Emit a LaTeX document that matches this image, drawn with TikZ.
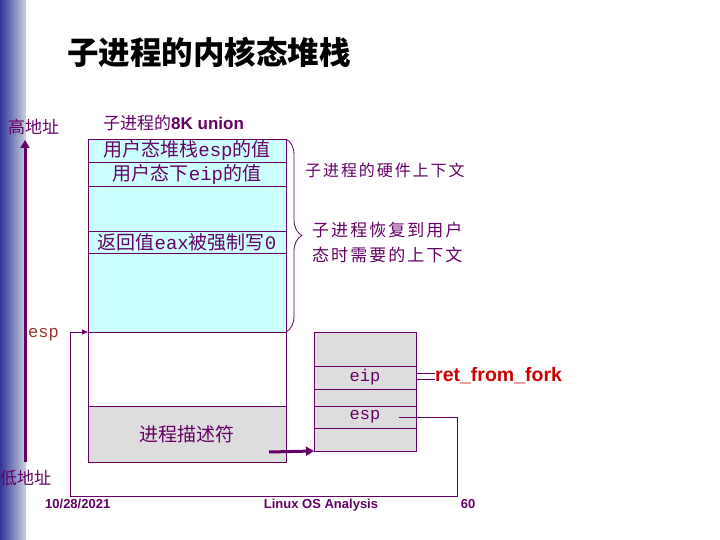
\documentclass[tikz,border=0pt]{standalone}
\usepackage{fontspec}
\setmainfont{Noto Sans CJK SC}
\newfontfamily\mono{Liberation Mono}
\newfontfamily\arial{Liberation Sans}
\newfontfamily\widecjk[LetterSpace=12]{Noto Sans CJK SC}
\usetikzlibrary{arrows.meta,decorations.pathreplacing}
\definecolor{pline}{HTML}{660066}
\definecolor{stackcyan}{HTML}{CCFFFF}
\definecolor{descgray}{HTML}{DDDDDD}
\definecolor{retred}{HTML}{CC0000}
\definecolor{espred}{HTML}{993333}
\definecolor{barblue}{HTML}{333399}
\definecolor{barlight}{HTML}{C8D4E0}
\newcommand\setpt[1]{\fontsize{#1}{#1}\selectfont}

\begin{document}
\begin{tikzpicture}[x=1pt,y=-1pt,
  cell/.style={draw=pline,line width=0.8pt,minimum width=198pt,inner sep=0pt,outer sep=0pt,text=pline,font=\setpt{19}},
  tcell/.style={draw=pline,line width=0.8pt,fill=descgray,minimum width=102pt,inner sep=0pt,outer sep=0pt,text=pline,font=\mono\setpt{17}},
  lbl/.style={text=pline,inner sep=0pt},
  foot/.style={text=pline,inner sep=0pt,anchor=base,font=\arial\bfseries\setpt{13}},
  tip/.style={-{Triangle[length=8pt,width=9pt]}}]
  \useasboundingbox (0,0) rectangle (720,540);
  \shade[left color=barblue,right color=barlight] (0,0) rectangle (26,540);

  % title
  \node[anchor=west,inner sep=0pt,font=\bfseries\setpt{31.5}] (title) at (67,52) {子进程的内核态堆栈};

  % kernel stack of the child (8K union)
  \node[lbl,anchor=west,font=\setpt{17}] (union) at (103,123) {子进程的{\arial\bfseries 8K union}};
  \node[cell,fill=stackcyan,minimum height=23pt] (r1) at (187,150.5) {用户态堆栈{\mono esp}的值};
  \node[cell,fill=stackcyan,minimum height=24pt] (r2) at (187,174) {用户态下{\mono eip}的值};
  \node[cell,fill=stackcyan,minimum height=45pt] (r3) at (187,208.5) {};
  \node[cell,fill=stackcyan,minimum height=22pt] (r4) at (187,242) {返回值{\mono eax}被强制写{\mono 0}};
  \node[cell,fill=stackcyan,minimum height=79pt] (r5) at (187,292.5) {};
  \node[cell,minimum height=74pt] (free) at (187,369) {};
  \node[cell,fill=descgray,minimum height=56pt] (desc) at (187,434) {进程描述符};

  % thread part of the descriptor
  \node[tcell,minimum height=34pt] (t1) at (365,349) {};
  \node[tcell,minimum height=23pt] (t2) at (365,377.5) {eip};
  \node[tcell,minimum height=17pt] (t3) at (365,397.5) {};
  \node[tcell,minimum height=22pt] (t4) at (365,417) {esp};
  \node[tcell,minimum height=23pt] (t5) at (365,439.5) {};

  % brace and its notes
  \draw[pline,line width=0.8pt,decorate,decoration={brace,amplitude=16pt}] (r1.north east) -- (r5.south east);
  \node[lbl,anchor=west,font=\widecjk\setpt{16}] (hw) at (305,170) {子进程的硬件上下文};
  \node[lbl,anchor=west,align=left,font=\widecjk\fontsize{17}{25}\selectfont] (ctx) at (312,242) {子进程恢复到用户\\态时需要的上下文};

  % addresses
  \node[lbl,anchor=west,font=\setpt{17}] (high) at (8,127) {高地址};
  \node[lbl,anchor=west,font=\setpt{17}] (low) at (0,478) {低地址};
  \coordinate (lo) at (25,462);
  \coordinate (hi) at (25,140);
  \draw[pline,line width=3pt,tip] (lo) -- (hi);
  \node[anchor=west,inner sep=0pt,text=espred,font=\mono\setpt{17}] (esplbl) at (28,335) {esp};

  % pointers
  \coordinate (espsrc) at (399,417);
  \draw[pline,line width=0.9pt,-{Triangle[length=6pt,width=5pt]}] (espsrc) -- (457,417) -- (457,496) -- (70,496) -- (70,332) -- (free.north west);
  \coordinate (descsrc) at (269,452);
  \draw[pline,line width=3pt,tip] (descsrc) -- (t5.south west);
  \node[anchor=west,inner sep=0pt,text=retred,font=\arial\bfseries\setpt{19.5}] (rff) at (435,376) {ret\_from\_fork};
  \draw[pline,line width=0.9pt] ([yshift=-3pt]t2.east |- rff.west) -- ([yshift=-3pt]rff.west);
  \draw[pline,line width=0.9pt] ([yshift=3pt]t2.east |- rff.west) -- ([yshift=3pt]rff.west);

  % footer
  \node[foot,anchor=base west] (date) at (45,508) {10/28/2021};
  \node[foot] (course) at (321,508) {Linux OS Analysis};
  \node[foot] (page) at (468,508) {60};
\end{tikzpicture}
\end{document}
